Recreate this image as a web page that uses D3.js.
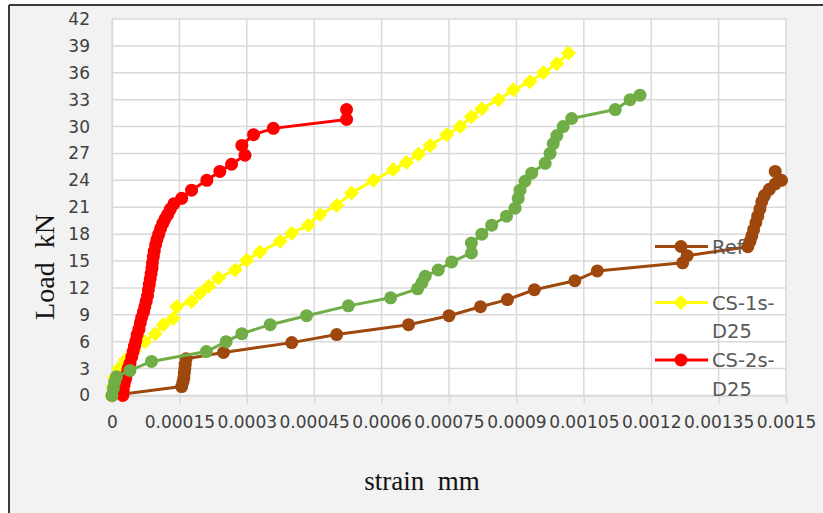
<!DOCTYPE html>
<html>
<head>
<meta charset="utf-8">
<script src="https://cdn.jsdelivr.net/npm/d3@7"></script>
<style>
  html, body { margin: 0; padding: 0; background: #ffffff; }
  svg { display: block; }
</style>
</head>
<body>
<svg id="chart" width="823" height="513"></svg>
<script>
// ---------- DATA ----------
const xTickValues = [0, 0.00015, 0.0003, 0.00045, 0.0006, 0.00075, 0.0009, 0.00105, 0.0012, 0.00135, 0.0015];
const xTickLabels = ["0", "0.00015", "0.0003", "0.00045", "0.0006", "0.00075", "0.0009", "0.00105", "0.0012", "0.00135", "0.0015"];
const yTickValues = [0, 3, 6, 9, 12, 15, 18, 21, 24, 27, 30, 33, 36, 39, 42];
const yTickLabels = ["0", "3", "6", "9", "12", "15", "18", "21", "24", "27", "30", "33", "36", "39", "42"];

const seriesNames = ["Ref", "CS-1s-D25", "CS-2s-D25", "Series4"];

// Ref (strain, load)
const refStrain = [0, 0.000155, 0.000158, 0.00016, 0.000161, 0.000162, 0.000163, 0.000165, 0.000248, 0.0004, 0.0005, 0.00066, 0.00075, 0.00082, 0.00088, 0.00094, 0.00103, 0.00108, 0.00127, 0.00128,
  0.001415, 0.00142, 0.001424, 0.001428, 0.001433, 0.001437, 0.001442, 0.001446, 0.001452, 0.001463, 0.001476, 0.00149, 0.001476];
const refLoad = [0, 1, 1.5, 2, 2.5, 3, 3.5, 4.1, 4.8, 5.9, 6.8, 7.9, 8.9, 9.9, 10.7, 11.8, 12.8, 13.9, 14.8, 15.6,
  16.6, 17.2, 17.8, 18.5, 19.3, 20.0, 20.8, 21.6, 22.3, 23.0, 23.6, 24.0, 25.0];

// CS-1s-D25
const cs1Strain = [0, 0.000002, 0.000005, 0.000015, 0.00003, 0.00005, 0.000073, 0.000096, 0.000114, 0.000136, 0.000144, 0.000177, 0.000196, 0.000215, 0.000237, 0.000274, 0.0003, 0.000329, 0.000374, 0.0004, 0.000437, 0.000463, 0.0005, 0.000533, 0.000582, 0.000626, 0.000655, 0.000682, 0.000708, 0.000745, 0.000775, 0.0008, 0.000823, 0.00086, 0.000893, 0.00093, 0.00096, 0.00099, 0.001016];
const cs1Load = [0, 1, 2, 3, 4, 5, 6, 6.9, 7.9, 8.6, 9.9, 10.5, 11.4, 12.2, 13.1, 14, 15.1, 16, 17.2, 18.1, 19, 20.2, 21.2, 22.6, 24, 25.2, 26, 26.9, 27.9, 29.1, 30, 31.1, 32, 33, 34.1, 35, 36, 37, 38.2];

// CS-2s-D25
const cs2Strain = [0.000024, 0.000025, 0.000027, 0.00003, 0.000033, 0.000036, 0.00004, 0.000044, 0.000047, 0.00005, 0.000053, 0.000056, 0.00006, 0.000063, 0.000066, 0.00007, 0.000073, 0.000076, 0.000079, 0.000081, 0.000083, 0.000085, 0.000087, 0.000089, 0.00009, 0.000092, 0.000094, 0.000097, 0.0001, 0.000104, 0.000108, 0.000113, 0.000118, 0.000124, 0.00013, 0.000138, 0.000155, 0.000177, 0.000211, 0.00024, 0.000266, 0.000296, 0.000289, 0.000315, 0.000359, 0.000522, 0.000522];
const cs2Load = [0, 0.6, 1.2, 1.8, 2.4, 3, 3.6, 4.3, 4.9, 5.5, 6.1, 6.8, 7.4, 8.1, 8.7, 9.3, 9.9, 10.5, 11.1, 11.8, 12.4, 13, 13.6, 14.2, 14.8, 15.5, 16.1, 16.8, 17.4, 18, 18.6, 19.2, 19.7, 20.2, 20.8, 21.4, 22, 22.9, 24, 25, 25.8, 26.8, 27.9, 29.1, 29.8, 30.8, 31.9];

// Series 4 (green, not shown in legend)
const s4Strain = [0, 0.000003, 0.000006, 0.00001, 0.00004, 0.000088, 0.00021, 0.000254, 0.000289, 0.000352, 0.000433, 0.000526, 0.00062, 0.00068, 0.00069, 0.000697, 0.000726, 0.000756, 0.0008, 0.0008, 0.000823, 0.000845, 0.000878, 0.000897, 0.000904, 0.000908, 0.000919, 0.000934, 0.000964, 0.000975, 0.000982, 0.00099, 0.001004, 0.001023, 0.00112, 0.001153, 0.001175];
const s4Load = [0, 0.8, 1.5, 2.1, 2.8, 3.8, 4.9, 6.0, 6.9, 7.9, 8.9, 10, 10.9, 11.9, 12.6, 13.3, 14, 14.9, 15.9, 17, 18, 19, 20, 20.9, 22, 22.9, 23.9, 24.8, 25.9, 27, 28.1, 29, 30, 30.9, 31.9, 33, 33.5];

const seriesColors = ["#9E480E", "#FFFF00", "#FF0000", "#70AD47"];

// ---------- LAYOUT ----------
const svg = d3.select("#chart");
const W = 823, H = 513;
const plot = { left: 112, right: 786, top: 19, bottom: 395.5 };

// outer chart area
svg.append("rect").attr("x", 9).attr("y", 5).attr("width", W - 9).attr("height", H - 5).attr("fill", "#f2f2f2");
svg.append("line").attr("x1", 9).attr("x2", 9).attr("y1", 5).attr("y2", H).attr("stroke", "#3a3a3a").attr("stroke-width", 2);
svg.append("line").attr("x1", 9).attr("x2", W).attr("y1", 5).attr("y2", 5).attr("stroke", "#3a3a3a").attr("stroke-width", 2);

// plot area
svg.append("rect").attr("x", plot.left).attr("y", plot.top)
  .attr("width", plot.right - plot.left).attr("height", plot.bottom - plot.top).attr("fill", "#ffffff");

const x = d3.scaleLinear().domain([0, 0.0015]).range([plot.left, plot.right]);
const y = d3.scaleLinear().domain([0, 42]).range([plot.bottom, plot.top]);

// gridlines
const grid = svg.append("g");
grid.selectAll("line.h").data(yTickValues).join("line")
  .attr("x1", plot.left).attr("x2", plot.right)
  .attr("y1", d => y(d)).attr("y2", d => y(d))
  .attr("stroke", "#d9d9d9").attr("stroke-width", 1.5);
grid.selectAll("line.v").data(xTickValues).join("line")
  .attr("y1", plot.top).attr("y2", plot.bottom)
  .attr("x1", d => x(d)).attr("x2", d => x(d))
  .attr("stroke", "#d9d9d9").attr("stroke-width", 1.5);

// x axis
const xAxis = d3.axisBottom(x).tickValues(xTickValues)
  .tickFormat((d, i) => xTickLabels[i]).tickSize(8).tickPadding(12);
const gx = svg.append("g").attr("transform", `translate(0,${plot.bottom})`).call(xAxis);
gx.select(".domain").attr("stroke", "#d9d9d9").attr("stroke-width", 1.5);
gx.selectAll(".tick line").attr("stroke", "#d9d9d9").attr("stroke-width", 1.5);
gx.selectAll(".tick text").attr("font-family", "DejaVu Sans").attr("font-size", 17).attr("fill", "#404040");

// y axis
const yAxis = d3.axisLeft(y).tickValues(yTickValues)
  .tickFormat((d, i) => yTickLabels[i]).tickSize(0).tickPadding(22);
const gy = svg.append("g").attr("transform", `translate(${plot.left},0)`).call(yAxis);
gy.select(".domain").attr("stroke", "#d9d9d9").attr("stroke-width", 1.5);
gy.selectAll(".tick text").attr("font-family", "DejaVu Sans").attr("font-size", 17).attr("fill", "#404040");

// axis titles
svg.append("text").attr("transform", "translate(54,267) rotate(-90)")
  .attr("text-anchor", "middle").attr("font-family", "Liberation Serif").attr("font-size", 28)
  .attr("fill", "#111").style("white-space", "pre").text("Load  kN");
svg.append("text").attr("x", 422).attr("y", 490)
  .attr("text-anchor", "middle").attr("font-family", "Liberation Serif").attr("font-size", 27)
  .attr("fill", "#111").style("white-space", "pre").text("strain  mm");

// ---------- SERIES ----------
const series = [
  { name: seriesNames[0], xs: refStrain, ys: refLoad, color: seriesColors[0], marker: "circle" },
  { name: seriesNames[1], xs: cs1Strain, ys: cs1Load, color: seriesColors[1], marker: "diamond" },
  { name: seriesNames[2], xs: cs2Strain, ys: cs2Load, color: seriesColors[2], marker: "circle" },
  { name: seriesNames[3], xs: s4Strain, ys: s4Load, color: seriesColors[3], marker: "circle" }
];

const line = d3.line().x(d => x(d[0])).y(d => y(d[1]));
const diamondPath = (s) => `M0,${-s}L${s},0L0,${s}L${-s},0Z`;
const R = 6.5, DS = 7.5;

function drawMarkers(g, pts, s) {
  if (s.marker === "circle") {
    g.selectAll("circle").data(pts).join("circle")
      .attr("cx", d => x(d[0])).attr("cy", d => y(d[1])).attr("r", R)
      .attr("fill", s.color);
  } else {
    g.selectAll("path.mk").data(pts).join("path").attr("class", "mk")
      .attr("d", diamondPath(DS))
      .attr("transform", d => `translate(${x(d[0])},${y(d[1])})`)
      .attr("fill", s.color);
  }
}

series.forEach(s => {
  const pts = s.xs.map((v, i) => [v, s.ys[i]]);
  const g = svg.append("g");
  g.append("path").datum(pts).attr("d", line).attr("fill", "none")
    .attr("stroke", s.color).attr("stroke-width", 3).attr("stroke-linejoin", "round");
  drawMarkers(g, pts, s);
});

// ---------- LEGEND ----------
const legendItems = [
  { s: series[0], lines: ["Ref"], y: 246.5 },
  { s: series[1], lines: ["CS-1s-", "D25"], y: 302.5 },
  { s: series[2], lines: ["CS-2s-", "D25"], y: 360 }
];
const lg = svg.append("g");
legendItems.forEach(it => {
  lg.append("line").attr("x1", 655).attr("x2", 708).attr("y1", it.y).attr("y2", it.y)
    .attr("stroke", it.s.color).attr("stroke-width", 3);
  if (it.s.marker === "circle") {
    lg.append("circle").attr("cx", 681).attr("cy", it.y).attr("r", R).attr("fill", it.s.color);
  } else {
    lg.append("path").attr("d", diamondPath(DS)).attr("transform", `translate(681,${it.y})`).attr("fill", it.s.color);
  }
  it.lines.forEach((t, j) => {
    lg.append("text").attr("x", 712).attr("y", it.y + j * 28.5).attr("dy", "0.36em")
      .attr("font-family", "DejaVu Sans").attr("font-size", 19.5).attr("fill", "#595959").text(t);
  });
});
</script>
</body>
</html>
